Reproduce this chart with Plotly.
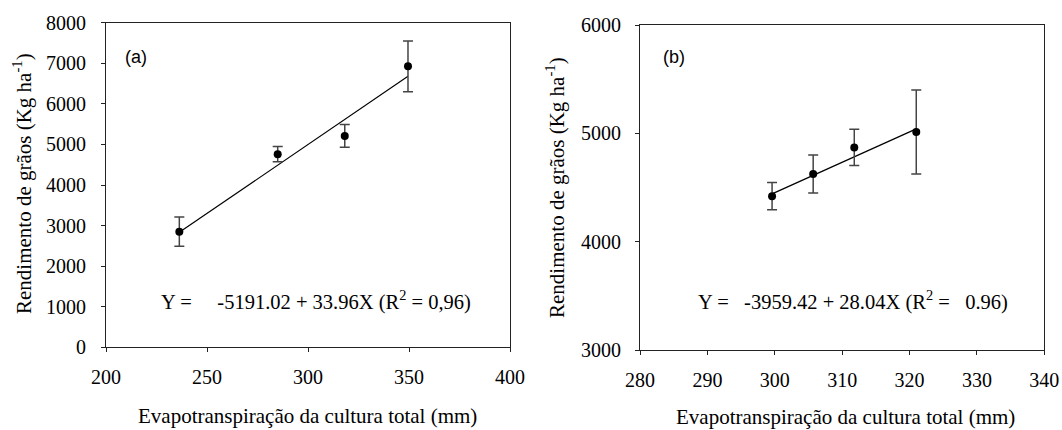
import plotly.graph_objects as go

# ---- data ----
et_a = [236.3, 285.0, 318.2, 349.5]
yield_a = [2850, 4760, 5210, 6925]
err_a = [360, 190, 280, 625]
coef_a = (-5191.02, 33.96)

et_b = [299.6, 305.7, 311.8, 321.0]
yield_b = [4420, 4625, 4870, 5012]
err_b = [126, 175, 167, 388]
coef_b = (-3959.42, 28.04)

xticks_a = [200, 250, 300, 350, 400]
yticks_a = [0, 1000, 2000, 3000, 4000, 5000, 6000, 7000, 8000]
xticks_b = [280, 290, 300, 310, 320, 330, 340]
yticks_b = [3000, 4000, 5000, 6000]

eq_a = "Y =\u00a0\u00a0\u00a0\u00a0 -5191.02 + 33.96X (R<sup>2</sup> = 0,96)"
eq_b = "Y =\u00a0\u00a0 -3959.42 + 28.04X (R<sup>2</sup> =\u00a0\u00a0 0.96)"
xtitle = "Evapotranspiração da cultura total (mm)"
ytitle = "Rendimento de grãos (Kg ha<sup>-1</sup>)"

W, H = 1062, 430
SERIF = "Liberation Serif"
SANS = "Liberation Sans"

fig = go.Figure()


def add_panel(et, yv, err, coef, xa, ya):
    b0, b1 = coef
    xl = [et[0], et[-1]]
    fig.add_trace(go.Scatter(x=xl, y=[b0 + b1 * v for v in xl], mode="lines",
                             line=dict(color="black", width=1.2),
                             xaxis=xa, yaxis=ya, showlegend=False, hoverinfo="skip"))
    fig.add_trace(go.Scatter(x=et, y=yv, mode="markers",
                             marker=dict(color="black", size=8),
                             error_y=dict(type="data", array=err, visible=True,
                                          color="#444444", thickness=1.5, width=5),
                             xaxis=xa, yaxis=ya, showlegend=False))


add_panel(et_a, yield_a, err_a, coef_a, "x", "y")
add_panel(et_b, yield_b, err_b, coef_b, "x2", "y2")


def axis_style(standoff):
    return dict(showline=True, linecolor="#222222", linewidth=1, mirror=True,
                ticks="outside", ticklen=4, tickcolor="#222222", tickwidth=1,
                showgrid=False, zeroline=False, automargin=False,
                ticklabelstandoff=standoff,
                tickfont=dict(family=SERIF, size=20, color="black"))


def px_x(p):
    return p / W


def px_y(p):
    return 1 - p / H


fig.update_layout(
    width=W, height=H, template="none",
    font=dict(family=SERIF, size=20, color="black"),
    paper_bgcolor="white", plot_bgcolor="white",
    margin=dict(l=0, r=0, t=0, b=0),
    showlegend=False,
    xaxis=dict(domain=[px_x(106), px_x(510)], range=[200, 400], tickvals=xticks_a,
               anchor="y", **axis_style(8)),
    yaxis=dict(domain=[px_y(347.3), px_y(22.7)], range=[0, 8000], tickvals=yticks_a,
               anchor="x", **axis_style(11)),
    xaxis2=dict(domain=[px_x(640), px_x(1044.3)], range=[280, 340], tickvals=xticks_b,
                anchor="y2", **axis_style(8)),
    yaxis2=dict(domain=[px_y(350), px_y(25)], range=[3000, 6000], tickvals=yticks_b,
                anchor="x2", **axis_style(10)),
)

ann = []
# panel letters
ann.append(dict(text="(a)", x=px_x(123), y=px_y(56.7), xanchor="left", yanchor="middle",
                font=dict(family=SANS, size=18, color="black")))
ann.append(dict(text="(b)", x=px_x(660.5), y=px_y(56.7), xanchor="left", yanchor="middle",
                font=dict(family=SANS, size=18, color="black")))
# equations
ann.append(dict(text=eq_a, x=px_x(316), y=px_y(300), xanchor="center", yanchor="middle",
                font=dict(family=SERIF, size=20.5, color="black")))
ann.append(dict(text=eq_b, x=px_x(853), y=px_y(300.5), xanchor="center", yanchor="middle",
                font=dict(family=SERIF, size=20.5, color="black")))
# x titles
ann.append(dict(text=xtitle, x=px_x(307.5), y=px_y(415.5), xanchor="center", yanchor="middle",
                borderpad=0, font=dict(family=SERIF, size=21, color="black")))
ann.append(dict(text=xtitle, x=px_x(845), y=px_y(416.5), xanchor="center", yanchor="middle",
                borderpad=0, font=dict(family=SERIF, size=21, color="black")))
# y titles
ann.append(dict(text=ytitle, x=px_x(22), y=px_y(184), xanchor="center", yanchor="middle",
                textangle=-90, font=dict(family=SERIF, size=21, color="black")))
ann.append(dict(text=ytitle, x=px_x(555), y=px_y(188), xanchor="center", yanchor="middle",
                textangle=-90, font=dict(family=SERIF, size=21, color="black")))

for a in ann:
    a.update(xref="paper", yref="paper", showarrow=False)
fig.update_layout(annotations=ann)

fig.write_html("out.html", config={"displayModeBar": False},
               post_script="document.body.style.margin='0';")
